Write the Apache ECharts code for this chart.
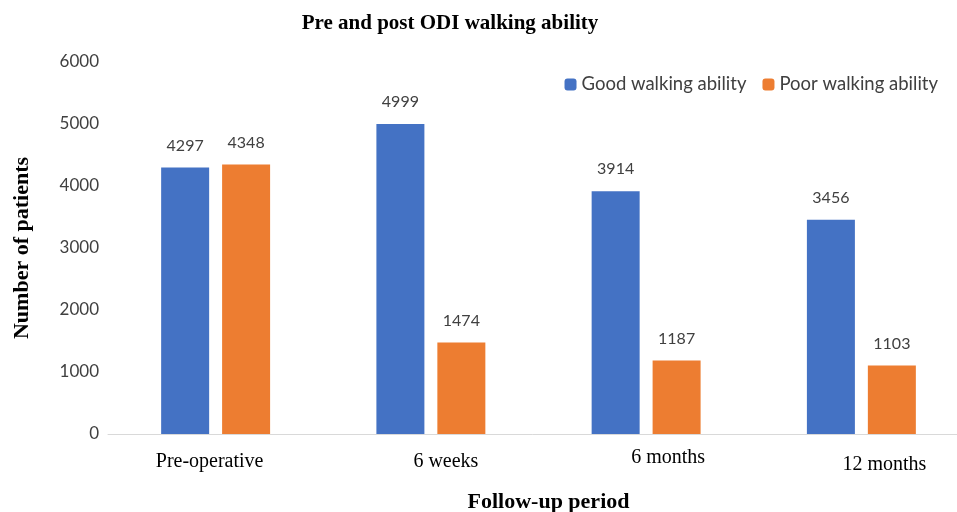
<!DOCTYPE html>
<html><head><meta charset="utf-8">
<script src="https://cdn.jsdelivr.net/npm/echarts@6/dist/echarts.min.js"></script>
<style>html,body{margin:0;padding:0;background:#fff}#c{width:957px;height:512px}</style>
</head><body><div id="c"></div>
<script>
const categories = ['Pre-operative', '6 weeks', '6 months', '12 months'];
const goodWalking = [4297, 4999, 3914, 3456];
const poorWalking = [4348, 1474, 1187, 1103];
const yTicks = [0, 1000, 2000, 3000, 4000, 5000, 6000];

// small per-label nudges of the category labels, as in the reference
const catLabelPadding = [[4, 12, 0, 0], [4, 0, 0, 30], [0, 0, 0, 44], [7, 0, 0, 46]];

const chart = echarts.init(document.getElementById('c'));
const labelStyle = {show: true, position: 'top', distance: 14, fontFamily: 'Lato', fontSize: 16, color: '#404040'};
chart.setOption({
  animation: false,
  title: {text: 'Pre and post ODI walking ability', left: 445, top: 8, textAlign: 'center',
    textStyle: {fontFamily: 'Liberation Serif', fontWeight: 'bold', fontSize: 21, color: '#000'}},
  legend: {right: 14, top: 70, itemWidth: 12, itemHeight: 12, itemGap: 16,
    textStyle: {fontFamily: 'Lato', fontSize: 18.5, color: '#404040'},
    data: ['Good walking ability', 'Poor walking ability']},
  grid: {left: 108, right: -12, top: 62, bottom: 78, outerBoundsMode: 'none', containLabel: false},
  xAxis: {type: 'category',
    data: categories.map((c, i) => ({value: c, textStyle: {padding: catLabelPadding[i]}})),
    axisLine: {lineStyle: {color: '#d9d9d9', width: 1}}, axisTick: {show: false},
    axisLabel: {fontFamily: 'Liberation Serif', fontSize: 20, color: '#000', margin: 14, interval: 0},
    name: 'Follow-up period', nameLocation: 'middle', nameGap: 55,
    nameTextStyle: {fontFamily: 'Liberation Serif', fontWeight: 'bold', fontSize: 22, color: '#000', padding: [2, 0, 0, 20]}},
  yAxis: {type: 'value', min: yTicks[0], max: yTicks[yTicks.length-1], interval: 1000,
    splitLine: {show: false}, axisLine: {show: false}, axisTick: {show: false},
    axisLabel: {fontFamily: 'Lato', fontSize: 17, color: '#404040', margin: 9, formatter: v => String(v)},
    name: 'Number of patients', nameLocation: 'middle', nameGap: 75,
    nameTextStyle: {fontFamily: 'Liberation Serif', fontWeight: 'bold', fontSize: 22, color: '#000'}},
  series: [
    {name: 'Good walking ability', type: 'bar', data: goodWalking, barWidth: 48, barGap: '27%',
      itemStyle: {color: '#4472C4'}, label: labelStyle},
    {name: 'Poor walking ability', type: 'bar', data: poorWalking, barWidth: 48,
      itemStyle: {color: '#ED7D31'}, label: labelStyle}
  ]
});
</script></body></html>
